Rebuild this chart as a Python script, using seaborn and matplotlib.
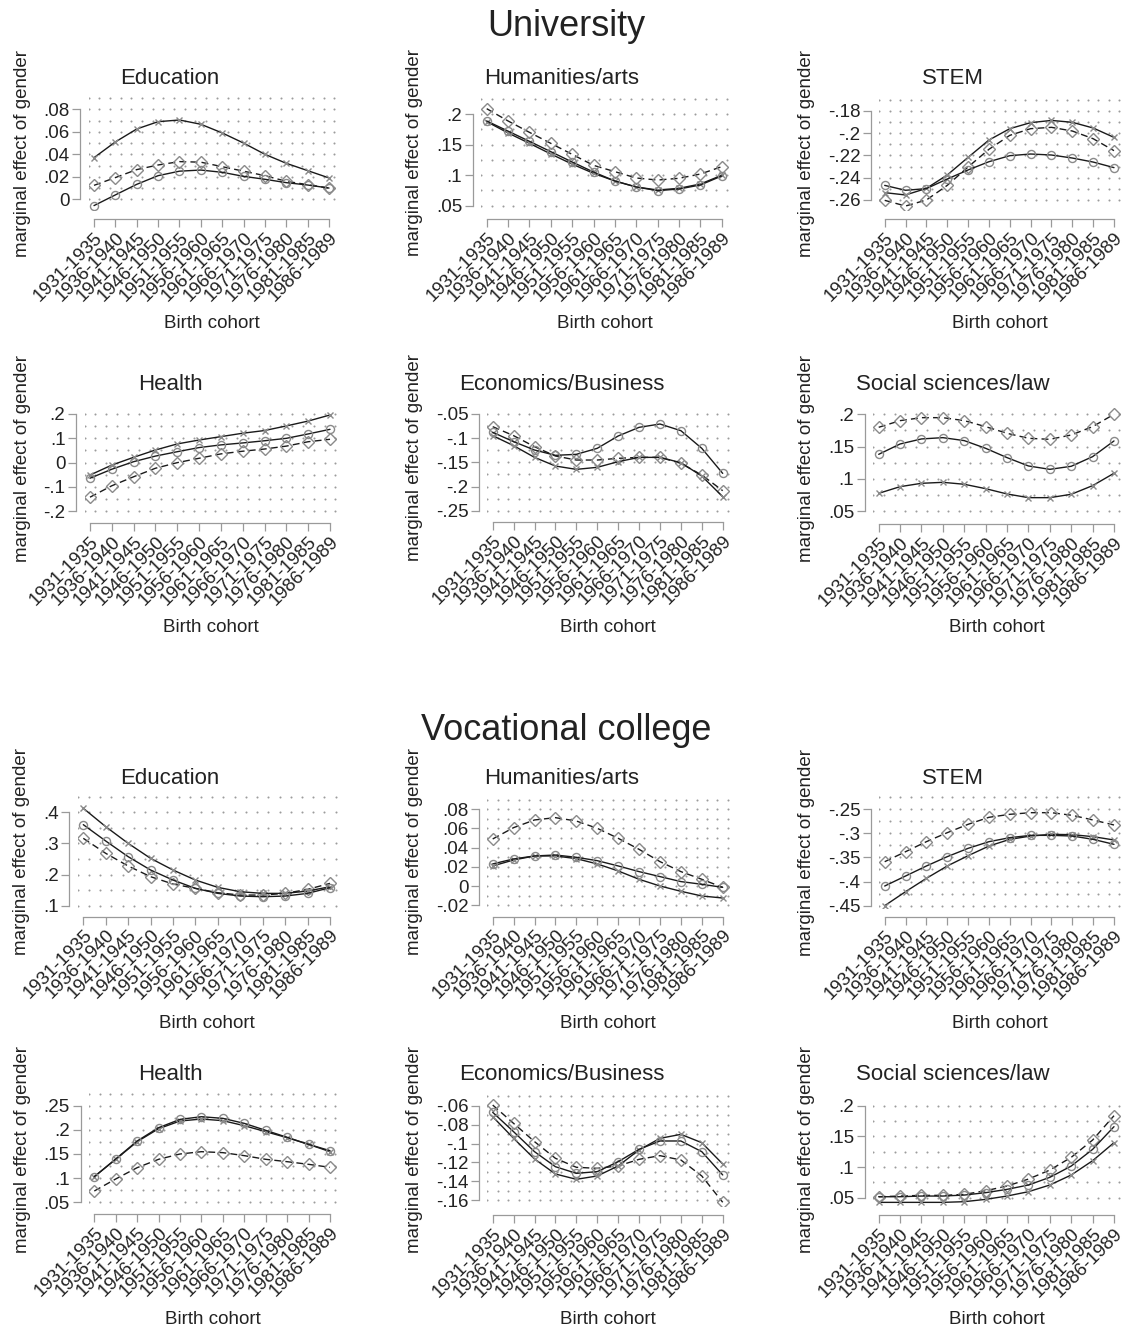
import numpy as np
import pandas as pd
import matplotlib
matplotlib.use("Agg")
import matplotlib.pyplot as plt
import seaborn as sns

# ---------------- data ----------------
COHORTS = ["1931-1935", "1936-1940", "1941-1945", "1946-1950", "1951-1955", "1956-1960",
           "1961-1965", "1966-1970", "1971-1975", "1976-1980", "1981-1985", "1986-1989"]

SECTIONS = ["University", "Vocational college"]
FIELDS = ["Education", "Humanities/arts", "STEM", "Health", "Economics/Business", "Social sciences/law"]

# University
UNI_EDU_O = [-.0056, .0039, .0133, .021, .025, .026, .024, .0204, .0178, .0148, .0127, .010]
UNI_EDU_X = [.037, .051, .0625, .069, .0705, .0667, .059, .050, .040, .032, .0255, .019]
UNI_EDU_D = [.0124, .0193, .0264, .0305, .0335, .0330, .029, .025, .021, .016, .013, .010]

UNI_HUM_O = [.1886, .172, .1553, .1384, .1215, .1051, .0904, .0806, .0746, .0773, .0839, .0986]
UNI_HUM_X = [.1875, .169, .152, .1346, .118, .103, .0904, .0806, .0757, .0784, .0855, .0997]
UNI_HUM_D = [.2087, .1886, .170, .152, .134, .116, .1057, .0953, .092, .0948, .1018, .1138]

UNI_STEM_O = [-.2469, -.2513, -.2498, -.2412, -.2331, -.2257, -.2203, -.2188, -.2197, -.2224, -.2260, -.2310]
UNI_STEM_X = [-.2534, -.2555, -.2496, -.2376, -.2218, -.2063, -.1961, -.1907, -.1887, -.1904, -.1955, -.2039]
UNI_STEM_D = [-.2603, -.2654, -.2600, -.2469, -.2304, -.2146, -.2021, -.1961, -.1949, -.1982, -.2051, -.2158]

UNI_HEA_O = [-.064, -.027, .004, .027, .045, .062, .073, .081, .090, .100, .118, .137]
UNI_HEA_X = [-.051, -.010, .022, .052, .077, .093, .107, .121, .132, .151, .171, .196]
UNI_HEA_D = [-.142, -.095, -.058, -.023, 0.0, .018, .036, .047, .056, .068, .086, .096]

UNI_ECO_O = [-.0879, -.1072, -.1245, -.1355, -.1334, -.1210, -.0955, -.0776, -.0707, -.0845, -.1210, -.1728]
UNI_ECO_X = [-.0948, -.1155, -.1397, -.1576, -.1645, -.1603, -.1486, -.1397, -.1397, -.1507, -.1783, -.2210]
UNI_ECO_D = [-.0762, -.0948, -.1176, -.1369, -.1452, -.1452, -.1417, -.1397, -.1397, -.1520, -.1762, -.2086]

UNI_SOC_O = [.1381, .1541, .1619, .1639, .1593, .1474, .1330, .1201, .1149, .1196, .1345, .1588]
UNI_SOC_X = [.0778, .0881, .0933, .0948, .0918, .0850, .0768, .0711, .0711, .0763, .0897, .1088]
UNI_SOC_D = [.1799, .1902, .1948, .1948, .1902, .1809, .1706, .1629, .1613, .1680, .1809, .2000]

# Vocational college
VOC_EDU_O = [.3603, .3078, .2575, .2146, .1824, .1556, .1396, .1310, .1288, .1310, .1396, .1578]
VOC_EDU_X = [.4129, .3539, .3003, .2521, .2146, .1824, .1588, .1449, .1396, .1396, .1470, .1610]
VOC_EDU_D = [.3164, .2682, .2275, .1932, .1696, .1556, .1417, .1342, .1342, .1396, .1524, .1717]

VOC_HUM_O = [.0231, .0283, .0314, .0324, .0300, .0265, .0210, .0151, .0099, .0047, .0019, -.0013]
VOC_HUM_X = [.0210, .0272, .0314, .0314, .0286, .0231, .0158, .0071, .0001, -.0054, -.0103, -.0124]
VOC_HUM_D = [.0491, .0609, .0689, .0713, .0678, .0602, .0498, .0383, .0255, .0151, .0071, -.0013]

VOC_STEM_O = [-.4093, -.3886, -.3679, -.3486, -.3314, -.3176, -.3093, -.3045, -.3045, -.3059, -.3128, -.3231]
VOC_STEM_X = [-.4500, -.4210, -.3934, -.3679, -.3466, -.3266, -.3128, -.3059, -.3024, -.3031, -.3072, -.3141]
VOC_STEM_D = [-.3590, -.3383, -.3176, -.2990, -.2817, -.2672, -.2610, -.2576, -.2576, -.2631, -.2728, -.2831]

VOC_HEA_O = [.1031, .1397, .1769, .2045, .2217, .2272, .2238, .2134, .1990, .1845, .1700, .1569]
VOC_HEA_X = [.1031, .1390, .1755, .2024, .2183, .2224, .2190, .2086, .1962, .1838, .1700, .1548]
VOC_HEA_D = [.0734, .0983, .1217, .1390, .1500, .1548, .1528, .1466, .1390, .1341, .1286, .1224]

VOC_ECO_O = [-.0670, -.0875, -.1086, -.1245, -.1315, -.1297, -.1192, -.1061, -.0973, -.0973, -.1086, -.1332]
VOC_ECO_X = [-.0716, -.0945, -.1163, -.1322, -.1378, -.1343, -.1237, -.1068, -.0945, -.0903, -.0991, -.1216]
VOC_ECO_D = [-.0593, -.0787, -.0980, -.1156, -.1251, -.1262, -.1237, -.1167, -.1128, -.1174, -.1343, -.1621]

VOC_SOC_O = [.0516, .0516, .0527, .0527, .0543, .0582, .0636, .0707, .0832, .1016, .1288, .1658]
VOC_SOC_X = [.0424, .0424, .0424, .0424, .0435, .0473, .0527, .0598, .0707, .0870, .1103, .1397]
VOC_SOC_D = [.0516, .0527, .0538, .0538, .0554, .0614, .0690, .0804, .0951, .1158, .1440, .1837]

YTICKS = [
    [0, .02, .04, .06, .08], [.05, .1, .15, .2], [-.26, -.24, -.22, -.2, -.18],
    [-.2, -.1, 0, .1, .2], [-.25, -.2, -.15, -.1, -.05], [.05, .1, .15, .2],
    [.1, .2, .3, .4], [-.02, 0, .02, .04, .06, .08], [-.45, -.4, -.35, -.3, -.25],
    [.05, .1, .15, .2, .25], [-.16, -.14, -.12, -.1, -.08, -.06], [.05, .1, .15, .2],
]
YLIMS = [
    (-.0095, .0916), (.043, .2295), (-.269, -.1669),
    (-.21, .248), (-.255, -.026), (.045, .2186),
    (.095, .4525), (-.022, .0939), (-.455, -.223),
    (.045, .2755), (-.1656, -.047), (.037, .22),
]
PANEL_DATA = [
    (UNI_EDU_O, UNI_EDU_X, UNI_EDU_D), (UNI_HUM_O, UNI_HUM_X, UNI_HUM_D), (UNI_STEM_O, UNI_STEM_X, UNI_STEM_D),
    (UNI_HEA_O, UNI_HEA_X, UNI_HEA_D), (UNI_ECO_O, UNI_ECO_X, UNI_ECO_D), (UNI_SOC_O, UNI_SOC_X, UNI_SOC_D),
    (VOC_EDU_O, VOC_EDU_X, VOC_EDU_D), (VOC_HUM_O, VOC_HUM_X, VOC_HUM_D), (VOC_STEM_O, VOC_STEM_X, VOC_STEM_D),
    (VOC_HEA_O, VOC_HEA_X, VOC_HEA_D), (VOC_ECO_O, VOC_ECO_X, VOC_ECO_D), (VOC_SOC_O, VOC_SOC_X, VOC_SOC_D),
]

# ---------------- layout (pixels) ----------------
W, H = 1132, 1331
# first category x, last category x, top tick y, bottom tick y
ANCHORS = [
    (94, 329, 109.3, 199.3), (486.7, 721.7, 114, 205.7), (884.7, 1114, 110.7, 200),
    (90, 330, 414, 511.3), (492.7, 722.7, 414, 510.7), (878.7, 1114, 414.3, 511.3),
    (83.3, 330, 812.3, 905.7), (492.7, 722.7, 809.3, 905.3), (884.7, 1114, 809, 905.7),
    (94.3, 330, 1105.7, 1202.3), (492.7, 722.7, 1105.7, 1200.3), (878.7, 1114, 1105.7, 1197.7),
]
TITLE_X = [170, 562, 953]
TITLE_Y = [78, 384, 778, 1075]
XLAB_Y = [323, 628, 1023, 1319]
SECTION_Y = [26, 731]
XLIM = (-0.25, 11.3)

sns.set_theme(style="white")
plt.rcParams["font.family"] = ["Liberation Sans", "DejaVu Sans"]

TXT = "#222222"
AXC = "#9a9a9a"
MK = "#8a8a8a"


def fmt(v):
    v = round(v, 4)
    if v == 0:
        return "0"
    s = f"{v:g}"
    return s.replace("0.", ".")


fig = plt.figure(figsize=(W / 100, H / 100), dpi=100)
fig.patch.set_facecolor("white")

for i, (o, x, d) in enumerate(PANEL_DATA):
    row, col = divmod(i, 3)
    a, b, p_hi, p_lo = ANCHORS[i]
    s = (b - a) / 11.0
    left = a + XLIM[0] * s
    right = a + XLIM[1] * s
    ticks = YTICKS[i]
    ylo, yhi = YLIMS[i]
    k = (p_lo - p_hi) / (ticks[-1] - ticks[0])
    top = p_hi - (yhi - ticks[-1]) * k
    bottom = p_lo + (ticks[0] - ylo) * k
    ax = fig.add_axes([left / W, 1 - bottom / H, (right - left) / W, (bottom - top) / H])
    ax.set_facecolor("none")

    # dotted lattice background
    step = (ticks[1] - ticks[0]) / 2.0
    gy = np.arange(np.ceil(ylo / step - 1e-6), np.floor(yhi / step + 1e-6) + 1) * step
    gx = np.arange(XLIM[0], XLIM[1] + 0.01, 0.5)
    GX, GY = np.meshgrid(gx, gy)
    ax.scatter(GX.ravel(), GY.ravel(), s=2.2, c="#9c9c9c", linewidths=0, zorder=0)

    xs = np.arange(len(COHORTS))
    common = dict(ax=ax, color="#1a1a1a", linewidth=1.0, markerfacecolor="none",
                  markeredgecolor=MK, markeredgewidth=1.0, errorbar=None, legend=False)
    sns.lineplot(x=xs, y=x, marker="x", markersize=4.8, zorder=3, **common)
    sns.lineplot(x=xs, y=o, marker="o", markersize=5.8, zorder=4, **common)
    sns.lineplot(x=xs, y=d, marker="D", markersize=6.0, dashes=(5, 3), zorder=2, **common)

    ax.set_xlim(*XLIM)
    ax.set_ylim(ylo, yhi)
    ax.grid(False)

    for sp in ["top", "right"]:
        ax.spines[sp].set_visible(False)
    ax.spines["left"].set_position(("outward", 6))
    ax.spines["bottom"].set_position(("outward", 6.7))
    ax.spines["left"].set_bounds(ticks[0], ticks[-1])
    ax.spines["bottom"].set_bounds(0, 11)
    for sp in ["left", "bottom"]:
        ax.spines[sp].set_color(AXC)
        ax.spines[sp].set_linewidth(0.9)
    ax.tick_params(axis="y", direction="out", length=5.8, width=0.9, color=AXC,
                   labelsize=13.5, labelcolor=TXT, pad=2, left=True)
    ax.tick_params(axis="x", direction="out", length=5.4, width=0.9, color=AXC,
                   labelsize=13.5, labelcolor=TXT, pad=2, bottom=True)

    ax.set_yticks(ticks)
    ax.set_yticklabels([fmt(t) for t in ticks])
    ax.set_xticks(xs)
    ax.set_xticklabels(COHORTS)
    for lab in ax.get_xticklabels():
        lab.set_rotation(45)
        lab.set_ha("right")
        lab.set_va("top")
        lab.set_rotation_mode("anchor")

    ax.set_ylabel("marginal effect of gender", fontsize=13.5, color=TXT, labelpad=9)
    ax.set_xlabel("")
    fig.text(((left + right) / 2) / W, 1 - XLAB_Y[row] / H, "Birth cohort",
             ha="center", va="center", fontsize=13.5, color=TXT)
    fig.text(TITLE_X[col] / W, 1 - TITLE_Y[row] / H, FIELDS[col + 3 * (row % 2)],
             ha="center", va="center", fontsize=16, color=TXT)

for j, name in enumerate(SECTIONS):
    fig.text(0.5, 1 - SECTION_Y[j] / H, name, ha="center", va="center", fontsize=26, color=TXT)

fig.savefig("out.png", dpi=100, facecolor="white")
